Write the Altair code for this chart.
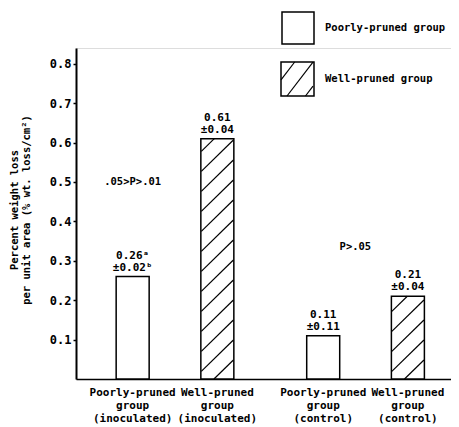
import altair as alt
import pandas as pd
import numpy as np

# ---------------- data ----------------
categories = ["Poorly-pruned group (inoculated)", "Well-pruned group (inoculated)",
              "Poorly-pruned group (control)", "Well-pruned group (control)"]
tick_text = ["Poorly-pruned\ngroup\n(inoculated)", "Well-pruned\ngroup\n(inoculated)",
             "Poorly-pruned\ngroup\n(control)", "Well-pruned\ngroup\n(control)"]
positions = [1.0, 2.0, 3.25, 4.25]
values = [0.26, 0.61, 0.11, 0.21]
value_text = ["0.26\u1d43", "0.61", "0.11", "0.21"]
error_text = ["\u00b10.02\u1d47", "\u00b10.04", "\u00b10.11", "\u00b10.04"]
hatched = [False, True, False, True]
annot_text = [".05>P>.01", "P>.05"]
annot_x = [1.0, 3.63]
annot_y = [0.50, 0.335]
legend_labels = ["Poorly-pruned group", "Well-pruned group"]
y_ticks = [0.1, 0.2, 0.3, 0.4, 0.5, 0.6, 0.7, 0.8]
y_title = ["Percent weight loss", "per unit area (% wt. loss/cm\u00b2)"]

# ---------------- layout / style ----------------
FONT = "DejaVu Sans Mono"
W, H = 375, 331
X_DOMAIN = [0.39, 4.70]
Y_DOMAIN = [0.0, 0.84]
BAR_PX = 33
PX_X = W / (X_DOMAIN[1] - X_DOMAIN[0])
PX_Y = H / (Y_DOMAIN[1] - Y_DOMAIN[0])


def hatch_segments(w, h, slope, spacing, first_hit):
    """Diagonal '/' segments clipped to a w x h box (pixels, origin bottom-left)."""
    segs = []
    c = -slope * first_hit
    while c > -slope * w:
        c -= spacing
    while c < h:
        xs = max(0.0, -c / slope)
        xe = min(w, (h - c) / slope)
        if xe - xs > 0.5:
            segs.append((xs, c + slope * xs, xe, c + slope * xe))
        c += spacing
    return segs


df = pd.DataFrame({
    "group": categories,
    "pos": positions,
    "value": values,
    "label": [a + "\n" + b for a, b in zip(value_text, error_text)],
    "tick": tick_text,
    "hatched": hatched,
})

rows = []
for p, v, hz in zip(positions, values, hatched):
    if not hz:
        continue
    for xs, ys, xe, ye in hatch_segments(BAR_PX, v * PX_Y, 0.95, 20.0, 13.0):
        left = p - BAR_PX / 2 / PX_X
        rows.append({"x": left + xs / PX_X, "y": ys / PX_Y,
                     "x2": left + xe / PX_X, "y2": ye / PX_Y})
hatch_df = pd.DataFrame(rows)

x_scale = alt.Scale(domain=X_DOMAIN, nice=False, zero=False)
y_scale = alt.Scale(domain=Y_DOMAIN, nice=False)

x_axis = alt.Axis(labels=False, ticks=False, title=None, grid=False,
                  domainColor="black", domainWidth=1.5)
y_axis = alt.Axis(values=y_ticks, format=".1f", grid=False,
                  domainColor="black", domainWidth=2,
                  tickColor="black", tickSize=3, tickWidth=1.5,
                  labelFont=FONT, labelFontSize=12, labelFontWeight="bold",
                  labelColor="black", labelPadding=2,
                  title=y_title, titleFont=FONT, titleFontSize=10.5,
                  titleFontWeight="bold", titleColor="black",
                  titleAngle=270, titleBaseline="top", titleAlign="center",
                  titleX=-67, titleY=H / 2 - 4, titleLineHeight=12)

base = alt.Chart(df)

bars = base.mark_bar(size=BAR_PX, fill="white", stroke="black", strokeWidth=1.5).encode(
    x=alt.X("pos:Q", scale=x_scale, axis=x_axis),
    y=alt.Y("value:Q", scale=y_scale, axis=y_axis),
)

hatch = alt.Chart(hatch_df).mark_rule(color="black", strokeWidth=1.2).encode(
    x="x:Q", y="y:Q", x2="x2:Q", y2="y2:Q"
)

vlabels = base.mark_text(font=FONT, fontSize=11, fontWeight="bold", baseline="bottom", dy=-16,
                         lineBreak="\n", lineHeight=12, color="black").encode(
    x="pos:Q", y="value:Q", text="label:N"
)

xlabels = base.mark_text(font=FONT, fontSize=11, fontWeight="bold", baseline="top", align="center",
                         lineBreak="\n", lineHeight=13, color="black").encode(
    x="pos:Q", y=alt.value(H + 8), text="tick:N"
)

annots = alt.Chart(pd.DataFrame({"t": annot_text, "x": annot_x, "y": annot_y})).mark_text(
    font=FONT, fontSize=10.5, fontWeight="bold", color="black").encode(x="x:Q", y="y:Q", text="t:N")

# ---------------- legend (drawn manually to allow hatching) ----------------
LX, LW = 206, 32
box_top = [-36, 14]
box_h = [32, 34]
leg_boxes = pd.DataFrame({"label": legend_labels,
                          "x": [LX, LX - 1], "x2": [LX + LW, LX + LW],
                          "y": box_top, "y2": [t + hh for t, hh in zip(box_top, box_h)],
                          "ty": [t + hh / 2 for t, hh in zip(box_top, box_h)]})
leg_rect = alt.Chart(leg_boxes).mark_rect(fill="white", stroke="black", strokeWidth=1.5).encode(
    x=alt.X("x:Q", scale=None), x2="x2:Q", y=alt.Y("y:Q", scale=None), y2="y2:Q")
leg_text = alt.Chart(leg_boxes).mark_text(font=FONT, fontSize=10.5, fontWeight="bold", align="left",
                                          baseline="middle", color="black").encode(
    x=alt.value(LX + LW + 11), y=alt.Y("ty:Q", scale=None), text="label:N")

lrows = []
bottom = box_top[1] + box_h[1]
for xs, ys, xe, ye in hatch_segments(LW, box_h[1], 1.3, 24.0, 6.0):
    lrows.append({"x": LX - 1 + xs, "y": bottom - ys, "x2": LX - 1 + xe, "y2": bottom - ye})
leg_hatch = alt.Chart(pd.DataFrame(lrows)).mark_rule(color="black", strokeWidth=1.2).encode(
    x=alt.X("x:Q", scale=None), y=alt.Y("y:Q", scale=None), x2="x2:Q", y2="y2:Q")

chart = alt.layer(bars, hatch, vlabels, xlabels, annots, leg_rect, leg_hatch, leg_text).properties(
    width=W, height=H,
    autosize=alt.AutoSizeParams(type="none"),
    padding={"left": 68, "top": 40, "right": 0, "bottom": 48},
).configure_view(stroke=None).configure(background="white")

chart.save("out.html", embed_options={"renderer": "svg", "actions": False})
